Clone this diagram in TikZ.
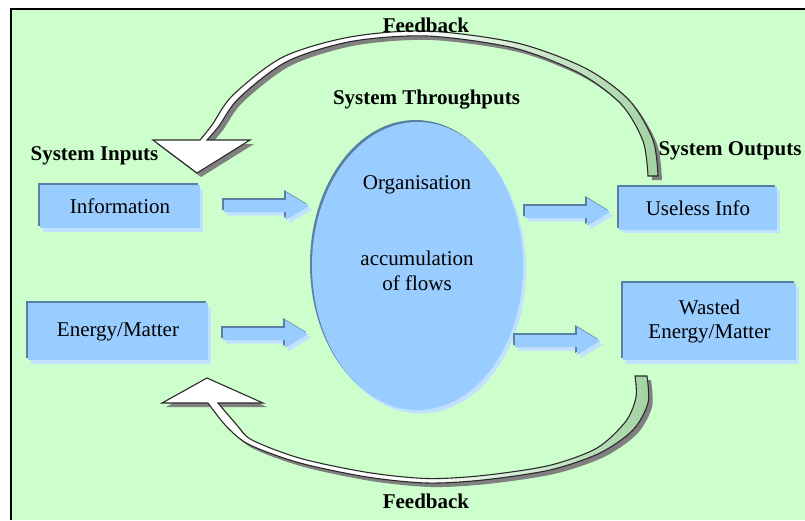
\documentclass[tikz,border=0pt]{standalone}
\usepackage{fontspec}
\setmainfont{Liberation Serif}
\usetikzlibrary{shapes.geometric,shadows}

\definecolor{panel}{HTML}{CCFFCC}
\definecolor{boxblue}{HTML}{99CCFF}
\definecolor{edgedark}{HTML}{5B7FA3}
\definecolor{edgelight}{HTML}{C2E1FF}
\definecolor{fbgreen}{HTML}{A3D3A3}
\definecolor{fbshadow}{HTML}{808080}
\definecolor{fbline}{HTML}{2B2B2B}

\newcommand\txt{\fontsize{21}{24.5}\selectfont}

\tikzset{
  % bevelled look: dark rim up-left, pale rim down-right
  raised/.style={fill=boxblue,
    general shadow={fill=edgelight, shadow xshift=3pt, shadow yshift=-3.5pt},
    general shadow={fill=edgedark, shadow xshift=-2pt, shadow yshift=2pt}},
  stockbox/.style={raised, draw=none, inner sep=0pt, font=\txt, align=center},
  heading/.style={font=\bfseries\txt, anchor=base, inner sep=0pt},
  bodytext/.style={font=\txt, inner sep=0pt, align=center},
  fbarrow/.style={draw=fbline, line width=1.1pt, line join=miter,
    left color=white, right color=fbgreen, middle color=white,
    general shadow={fill=fbshadow, shadow xshift=4pt, shadow yshift=-4pt}},
  flow/.pic={\path[raised] (0,-6) -- (62,-6) -- (62,-14) -- (85,0)
      -- (62,14) -- (62,6) -- (0,6) -- cycle;}
}

\begin{document}
\begin{tikzpicture}[x=1pt,y=-1pt]
\useasboundingbox (0,0) rectangle (805,520);

% panel
\fill[panel] (11,8) rectangle (805,520);
\draw[black, line width=2pt] (11,520) -- (11,9) -- (805,9);

% feedback loops
\draw[fbarrow]
  plot[smooth] coordinates {(658,176) (653,140) (629,100) (585,68) (517,43)
    (427,31) (350,37) (283,57) (233,95) (212,125) (200,140)}
  -- (153,140) -- (197,173) -- (250,140)
  -- plot[smooth] coordinates {(207,140) (219,126) (239,98) (287,61.5)
    (351,41.5) (427,36) (514,48) (579,73) (621,104) (643,141) (648,176)}
  -- cycle;

\draw[fbarrow]
  plot[smooth] coordinates {(647,376) (648,403) (633,430) (600,453) (550,470)
    (483,480) (427,483) (367,477) (300,463) (250,445) (227,427) (208,403)}
  -- (162,403) -- (207,378) -- (263,403)
  -- plot[smooth] coordinates {(218,403) (236,424) (252,440) (301,458.5)
    (368,472.5) (427,478.5) (483,475.5) (549,465.5) (597,448) (626,421)
    (636,397) (635,376)}
  -- cycle;

% headings
\node[heading] (fbtop) at (426,32) {Feedback};
\node[heading] (fbbottom) at (426,508) {Feedback};
\node[heading] (through) at (426.5,104.5) {System Throughputs};
\node[heading] (inputs) at (94.5,160.7) {System Inputs};
\node[heading] (outputs) at (730,155.5) {System Outputs};

% inputs
\node[stockbox, minimum width=160pt, minimum height=43pt] (info) at (120,206.5) {Information};
\node[stockbox, minimum width=180pt, minimum height=57pt] (energy) at (118,331.5) {Energy/Matter};

% throughput
\node[ellipse, raised, draw=none, minimum width=211pt, minimum height=288pt, inner sep=0pt] (core) at (417.5,266) {};
\node[bodytext] (org) at (417,185) {Organisation};
\node[bodytext] (acc) at (417,271) {accumulation\\of flows};

% outputs
\node[stockbox, minimum width=158pt, minimum height=43pt] (useless) at (698,208) {Useless Info};
\node[stockbox, minimum width=173pt, minimum height=77pt] (wasted) at (709.5,321.5) {Wasted\\Energy/Matter};

% flow arrows
\pic at (224,206) {flow};
\pic at (223,334) {flow};
\pic at (525,212) {flow};
\pic at (515,341) {flow};
\end{tikzpicture}
\end{document}
